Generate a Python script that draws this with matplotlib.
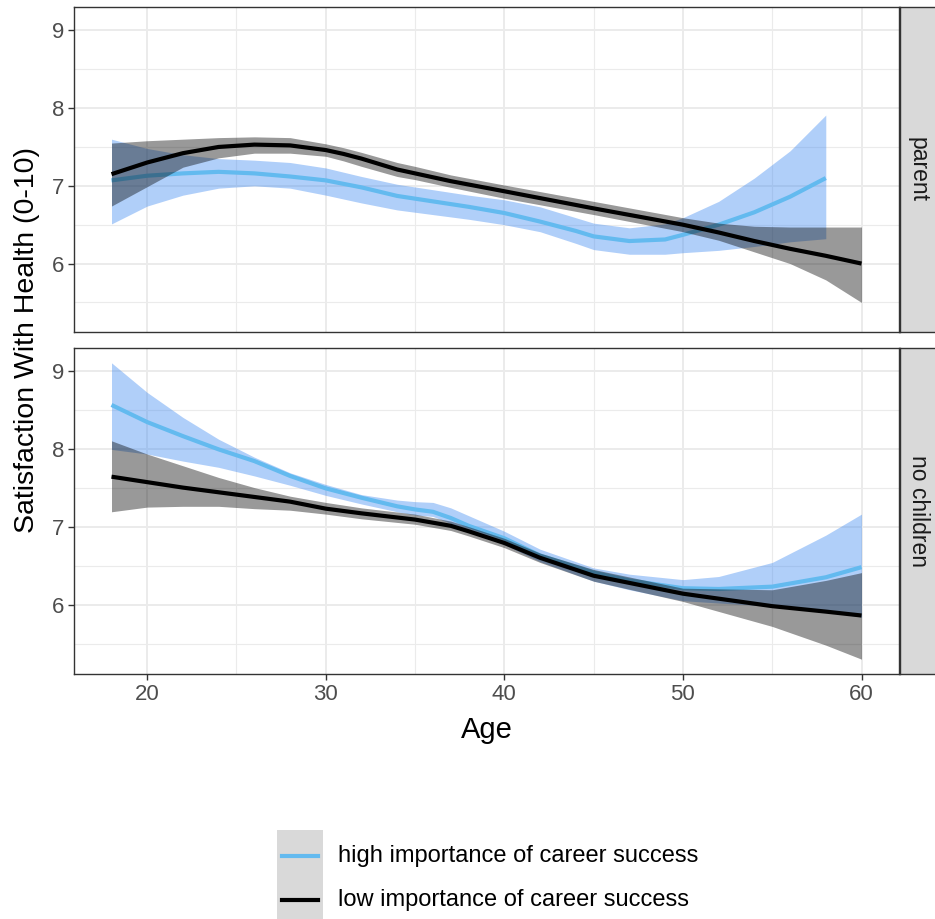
import matplotlib.pyplot as plt
from matplotlib.lines import Line2D
from matplotlib.patches import Rectangle

plt.rcParams["font.family"] = ["Liberation Sans", "DejaVu Sans"]

# ==============================================================================
# DADOS
# ==============================================================================
# parent - high importance of career success
idade_alta_pai = [18, 20, 22, 24, 26, 28, 30, 32, 34, 36, 38, 40, 42, 44, 45, 47, 49, 50, 52, 54, 56, 58]
alta_pai = [7.07, 7.13, 7.16, 7.18, 7.16, 7.12, 7.07, 6.98, 6.87, 6.80, 6.73, 6.65, 6.54, 6.42, 6.35, 6.29,
            6.31, 6.37, 6.50, 6.66, 6.86, 7.10]
alta_pai_inf = [6.51, 6.74, 6.88, 6.97, 7.00, 6.97, 6.88, 6.78, 6.69, 6.63, 6.57, 6.50, 6.41, 6.26, 6.18, 6.12,
                6.12, 6.14, 6.17, 6.22, 6.28, 6.32]
alta_pai_sup = [7.60, 7.48, 7.40, 7.35, 7.33, 7.30, 7.23, 7.12, 7.02, 6.95, 6.88, 6.82, 6.73, 6.59, 6.52, 6.46,
                6.51, 6.59, 6.80, 7.10, 7.45, 7.91]

# parent - low importance of career success
idade_baixa_pai = [18, 20, 22, 24, 26, 28, 30, 31, 32, 34, 35, 37, 40, 45, 50, 52, 54, 56, 58, 60]
baixa_pai = [7.15, 7.30, 7.42, 7.50, 7.53, 7.52, 7.46, 7.41, 7.35, 7.21, 7.16, 7.06, 6.93, 6.71, 6.50, 6.40,
             6.29, 6.19, 6.10, 6.00]
baixa_pai_inf = [6.74, 6.99, 7.24, 7.36, 7.42, 7.42, 7.38, 7.32, 7.25, 7.12, 7.08, 6.98, 6.84, 6.63, 6.41, 6.30,
                 6.15, 6.00, 5.79, 5.50]
baixa_pai_sup = [7.55, 7.58, 7.60, 7.62, 7.63, 7.62, 7.54, 7.49, 7.43, 7.30, 7.25, 7.14, 7.01, 6.80, 6.59, 6.52,
                 6.48, 6.47, 6.47, 6.47]

# no children - high importance of career success
idade_alta_sem = [18, 20, 22, 24, 26, 28, 30, 32, 34, 35, 36, 37, 38, 40, 42, 45, 47, 50, 52, 55, 58, 60]
alta_sem = [8.57, 8.35, 8.17, 8.00, 7.85, 7.66, 7.50, 7.38, 7.27, 7.23, 7.20, 7.12, 7.02, 6.86, 6.64, 6.42,
            6.32, 6.22, 6.21, 6.24, 6.36, 6.49]
alta_sem_inf = [8.00, 7.94, 7.85, 7.77, 7.66, 7.54, 7.41, 7.30, 7.20, 7.16, 7.14, 7.05, 6.95, 6.78, 6.56, 6.31,
                6.20, 6.06, 6.03, 5.99, 5.92, 5.85]
alta_sem_sup = [9.11, 8.73, 8.41, 8.13, 7.90, 7.70, 7.55, 7.42, 7.35, 7.33, 7.32, 7.25, 7.15, 6.95, 6.72, 6.48,
                6.40, 6.33, 6.37, 6.55, 6.90, 7.17]

# no children - low importance of career success
idade_baixa_sem = [18, 20, 22, 24, 26, 28, 30, 32, 35, 37, 38, 40, 42, 45, 50, 55, 58, 60]
baixa_sem = [7.65, 7.58, 7.51, 7.45, 7.39, 7.33, 7.24, 7.18, 7.10, 7.02, 6.95, 6.80, 6.61, 6.38, 6.15, 5.99,
             5.92, 5.87]
baixa_sem_inf = [7.20, 7.26, 7.27, 7.27, 7.24, 7.22, 7.17, 7.11, 7.04, 6.96, 6.89, 6.74, 6.55, 6.31, 6.05, 5.73,
                 5.49, 5.31]
baixa_sem_sup = [8.11, 7.94, 7.79, 7.64, 7.51, 7.40, 7.32, 7.25, 7.17, 7.08, 7.01, 6.86, 6.67, 6.46, 6.22, 6.20,
                 6.32, 6.42]

paineis = ["parent", "no children"]
rotulos_legenda = ["high importance of career success", "low importance of career success"]

COR_ALTA = "#63BAEF"
COR_FAIXA_ALTA = "#3A87F2"
COR_BAIXA = "black"

# ==============================================================================
# FIGURA
# ==============================================================================
W, H = 935, 919
fig = plt.figure(figsize=(W / 100, H / 100), dpi=100)


def eixo_px(x0, y0, x1, y1):
    return fig.add_axes([x0 / W, 1 - y1 / H, (x1 - x0) / W, (y1 - y0) / H])


dados = [
    (idade_alta_pai, alta_pai, alta_pai_inf, alta_pai_sup,
     idade_baixa_pai, baixa_pai, baixa_pai_inf, baixa_pai_sup),
    (idade_alta_sem, alta_sem, alta_sem_inf, alta_sem_sup,
     idade_baixa_sem, baixa_sem, baixa_sem_inf, baixa_sem_sup),
]
posicoes = [(74, 7, 899, 332), (74, 348, 899, 674)]

for i, (pos, d, nome) in enumerate(zip(posicoes, dados, paineis)):
    ax = eixo_px(*pos)
    ia, a, ai, asup, ib, b, bi, bsup = d

    ax.fill_between(ia, ai, asup, color=COR_FAIXA_ALTA, alpha=0.4, lw=0, zorder=2)
    ax.plot(ia, a, color=COR_ALTA, lw=3, zorder=3, solid_capstyle="butt")
    ax.fill_between(ib, bi, bsup, color="black", alpha=0.4, lw=0, zorder=4)
    ax.plot(ib, b, color=COR_BAIXA, lw=3, zorder=5, solid_capstyle="butt")

    ax.set_xlim(15.9, 62.1)
    ax.set_ylim(5.12, 9.30)
    ax.set_xticks([20, 30, 40, 50, 60])
    ax.set_xticks([25, 35, 45, 55], minor=True)
    ax.set_yticks([6, 7, 8, 9])
    ax.set_yticks([5.5, 6.5, 7.5, 8.5], minor=True)
    ax.grid(True, which="major", color="#EBEBEB", lw=1.4, zorder=0)
    ax.grid(True, which="minor", color="#EBEBEB", lw=0.8, zorder=0)
    ax.set_axisbelow(True)
    for s in ax.spines.values():
        s.set_color("#333333")
        s.set_linewidth(1.0)
    ax.tick_params(which="major", length=4, width=1, color="#333333",
                   labelsize=16, labelcolor="#4D4D4D", pad=3)
    ax.tick_params(which="minor", length=0)
    if i == 0:
        ax.tick_params(axis="x", which="major", length=0, labelbottom=False)

    # faixa lateral (strip)
    sx = eixo_px(900, pos[1], 936, pos[3])
    sx.set_facecolor("#D9D9D9")
    sx.set_xticks([])
    sx.set_yticks([])
    for s in sx.spines.values():
        s.set_color("#333333")
        s.set_linewidth(1.0)
    sx.text(0.5, 0.5, nome, rotation=-90, ha="center", va="center",
            fontsize=16.5, color="#1A1A1A", transform=sx.transAxes)

fig.text(486.5 / W, 1 - 730 / H, "Age", ha="center", va="center", fontsize=21)
fig.text(27 / W, 1 - 340 / H, "Satisfaction With Health (0-10)", rotation=90,
         ha="center", va="center", fontsize=20.5)

# ==============================================================================
# LEGENDA
# ==============================================================================
fig.patches.append(Rectangle((277 / W, 0), 46 / W, (919 - 830) / H,
                             transform=fig.transFigure, facecolor="#D9D9D9",
                             edgecolor="none"))
for cor, rot, yp in zip([COR_ALTA, COR_BAIXA], rotulos_legenda, [856, 900]):
    fig.lines.append(Line2D([282 / W, 318 / W], [1 - yp / H, 1 - yp / H],
                            transform=fig.transFigure, color=cor, lw=3))
    fig.text(338 / W, 1 - yp / H, rot, ha="left", va="center", fontsize=17)

fig.savefig("out.png", dpi=100)
